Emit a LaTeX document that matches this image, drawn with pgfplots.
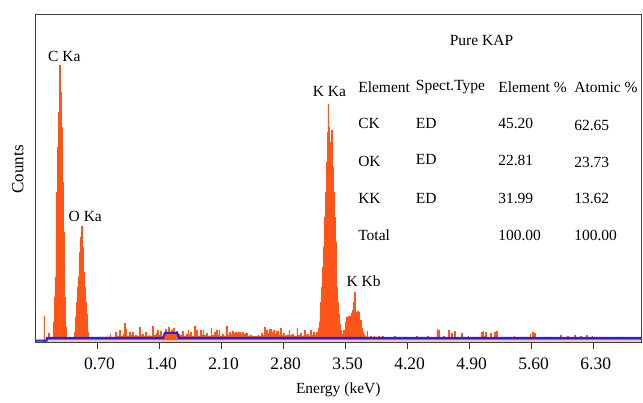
\documentclass[border=0pt]{standalone}
\usepackage{fontspec}
\setmainfont{Liberation Serif}
\usepackage{pgfplots}
\pgfplotsset{compat=1.18}
\definecolor{specorange}{RGB}{255,85,25}
\definecolor{fitblue}{RGB}{35,35,215}
\definecolor{bandpink}{RGB}{250,195,175}

\begin{document}
\begin{tikzpicture}[font=\fontsize{15.5}{18}\selectfont]
\useasboundingbox (-35.5pt,-61pt) rectangle (607.5pt,342pt);
\begin{axis}[
    at={(0,0)}, anchor=south west,
    scale only axis,
    width=605.5pt, height=328pt,
    xmin=0, xmax=6.834,
    ymin=0, ymax=328,
    xtick={0.7,1.4,2.1,2.8,3.5,4.2,4.9,5.6,6.3},
    ytick=\empty,
    tick pos=bottom,
    tick align=outside,
    major tick length=7pt,
    xticklabel style={/pgf/number format/fixed, /pgf/number format/fixed zerofill,
        /pgf/number format/precision=2, /pgf/number format/assume math mode=true,
        font=\fontsize{17.5}{20}\selectfont, yshift=-5.5pt, xshift=2pt},
    axis line style={black!75, line width=0.8pt},
    every tick/.style={black!80, line width=0.8pt},
    xlabel={Energy (keV)},
    ylabel={Counts},
    xlabel style={at={(axis description cs:0.5,0)}, anchor=center, yshift=-48pt},
    ylabel style={at={(axis description cs:-0.029,0.526)}, anchor=center, font=\fontsize{17}{20}\selectfont},
    axis on top,
]
% EDS spectrum (counts in arbitrary units)
\addplot[const plot, fill=specorange, draw=specorange, line width=0.7pt] table {
x y
0.00 0
0.09 1
0.095 26
0.105 2
0.13 4
0.15 9
0.16 4
0.19 5
0.20 20
0.21 45
0.22 65
0.23 105
0.24 150
0.25 195
0.26 230
0.27 277
0.28 250
0.29 215
0.30 160
0.31 110
0.32 75
0.33 45
0.34 15
0.35 4
0.43 4
0.44 10
0.45 25
0.46 40
0.47 55
0.48 65
0.49 80
0.50 90
0.51 105
0.52 116
0.53 95
0.54 70
0.55 55
0.56 40
0.57 28
0.58 18
0.59 10
0.60 4
0.61 3
0.70 5
0.84 8
0.85 5
0.90 10
0.91 6
0.95 12
0.96 6
0.99 8
1.00 19
1.01 8
1.02 13
1.03 6
1.06 10
1.07 7
1.09 10
1.10 6
1.13 7
1.14 6
1.17 15
1.18 7
1.21 8
1.22 6
1.24 10
1.25 6
1.28 7
1.29 6
1.32 16
1.33 7
1.36 9
1.37 6
1.38 12
1.39 7
1.41 11
1.42 6
1.45 9
1.47 13
1.48 8
1.50 15
1.51 9
1.53 12
1.54 8
1.56 14
1.57 9
1.59 11
1.60 8
1.62 7
1.66 11
1.67 6
1.70 8
1.71 6
1.72 12
1.73 7
1.75 10
1.76 6
1.79 16
1.80 7
1.82 12
1.83 6
1.86 12
1.87 7
1.89 12
1.90 7
1.93 9
1.94 6
1.98 14
1.99 7
2.02 10
2.03 7
2.04 12
2.05 7
2.07 12
2.08 6
2.11 8
2.12 6
2.15 16
2.16 7
2.19 10
2.20 8
2.22 11
2.23 9
2.25 10
2.27 9
2.29 10
2.31 8
2.33 10
2.35 8
2.37 9
2.39 6
2.43 7
2.44 6
2.47 6
2.51 7
2.52 6
2.55 9
2.56 7
2.58 15
2.59 10
2.61 12
2.62 9
2.64 13
2.66 10
2.68 12
2.70 8
2.72 11
2.74 7
2.76 14
2.77 7
2.80 9
2.81 6
2.83 7
2.86 12
2.87 7
2.90 8
2.91 6
2.95 14
2.96 7
2.99 9
3.00 6
3.03 12
3.04 7
3.07 8
3.08 6
3.10 12
3.11 7
3.14 10
3.15 7
3.17 10
3.19 14
3.20 20
3.21 27
3.22 40
3.23 55
3.24 75
3.25 95
3.26 125
3.27 150
3.28 180
3.29 210
3.30 238
3.31 215
3.32 195
3.33 200
3.34 212
3.35 175
3.36 150
3.37 125
3.38 100
3.39 75
3.40 55
3.41 40
3.42 28
3.43 18
3.44 12
3.45 8
3.47 7
3.48 12
3.50 20
3.51 25
3.52 22
3.53 26
3.55 25
3.56 29
3.57 28
3.58 32
3.59 40
3.60 50
3.61 30
3.62 29
3.63 31
3.64 30
3.65 27
3.66 20
3.67 22
3.68 14
3.69 10
3.70 8
3.71 6
3.72 5
3.74 11
3.75 5
3.78 6
3.79 5
3.82 6
3.83 5
3.87 6
3.88 5
3.92 6
3.93 4
4.05 6
4.06 4
4.15 5
4.16 4
4.30 6
4.31 4
4.42 6
4.43 4
4.53 13
4.54 6
4.55 12
4.56 4
4.60 6
4.61 4
4.66 12
4.67 5
4.69 9
4.70 4
4.73 11
4.74 4
4.81 9
4.82 4
4.88 6
4.89 4
4.95 5
4.96 4
5.03 10
5.04 6
5.05 11
5.06 6
5.08 10
5.09 4
5.13 9
5.14 4
5.18 10
5.19 6
5.20 11
5.21 4
5.30 5
5.31 4
5.40 6
5.41 4
5.47 5
5.48 4
5.58 8
5.59 5
5.61 10
5.62 6
5.63 9
5.64 4
5.75 5
5.76 4
5.92 7
5.93 4
6.00 6
6.01 4
6.08 7
6.09 4
6.15 6
6.16 4
6.22 7
6.23 4
6.28 6
6.29 4
6.45 5
6.46 4
6.60 5
6.61 4
6.834 4
} \closedcycle;
% light band under the background fit
\addplot[bandpink, line width=2pt] coordinates {(0.13,1.4) (6.834,1.4)};
% background fit
\addplot[fitblue, line width=2pt] coordinates {
(0,1.3) (0.125,1.3) (0.13,4) (1.44,4) (1.46,9) (1.60,9) (1.62,4) (6.834,4)};

\node at (axis cs:0.325,285.3) {C Ka};
\node at (axis cs:0.562,125.3) {O Ka};
\node at (axis cs:3.318,250.3) {K Ka};
\node at (axis cs:3.703,60.3) {K Kb};
\node at (axis cs:5.034,302) {Pure KAP};

\node[anchor=base west, inner sep=0pt] at (axis cs:3.641,249.3) {Element};
\node[anchor=base west, inner sep=0pt] at (axis cs:4.292,251) {Spect.Type};
\node[anchor=base west, inner sep=0pt] at (axis cs:5.221,249.3) {Element \%};
\node[anchor=base west, inner sep=0pt] at (axis cs:6.079,249.3) {Atomic \%};

\node[anchor=base west, inner sep=0pt] at (axis cs:3.641,213) {CK};
\node[anchor=base west, inner sep=0pt] at (axis cs:4.292,213) {ED};
\node[anchor=base west, inner sep=0pt] at (axis cs:5.221,213) {45.20};
\node[anchor=base west, inner sep=0pt] at (axis cs:6.079,211) {62.65};

\node[anchor=base west, inner sep=0pt] at (axis cs:3.641,175.3) {OK};
\node[anchor=base west, inner sep=0pt] at (axis cs:4.292,177) {ED};
\node[anchor=base west, inner sep=0pt] at (axis cs:5.221,176.3) {22.81};
\node[anchor=base west, inner sep=0pt] at (axis cs:6.079,174.7) {23.73};

\node[anchor=base west, inner sep=0pt] at (axis cs:3.641,138.7) {KK};
\node[anchor=base west, inner sep=0pt] at (axis cs:4.292,138.7) {ED};
\node[anchor=base west, inner sep=0pt] at (axis cs:5.221,138.7) {31.99};
\node[anchor=base west, inner sep=0pt] at (axis cs:6.079,138.7) {13.62};

\node[anchor=base west, inner sep=0pt] at (axis cs:3.641,101) {Total};
\node[anchor=base west, inner sep=0pt] at (axis cs:5.221,101) {100.00};
\node[anchor=base west, inner sep=0pt] at (axis cs:6.079,101) {100.00};
\end{axis}
\end{tikzpicture}
\end{document}
